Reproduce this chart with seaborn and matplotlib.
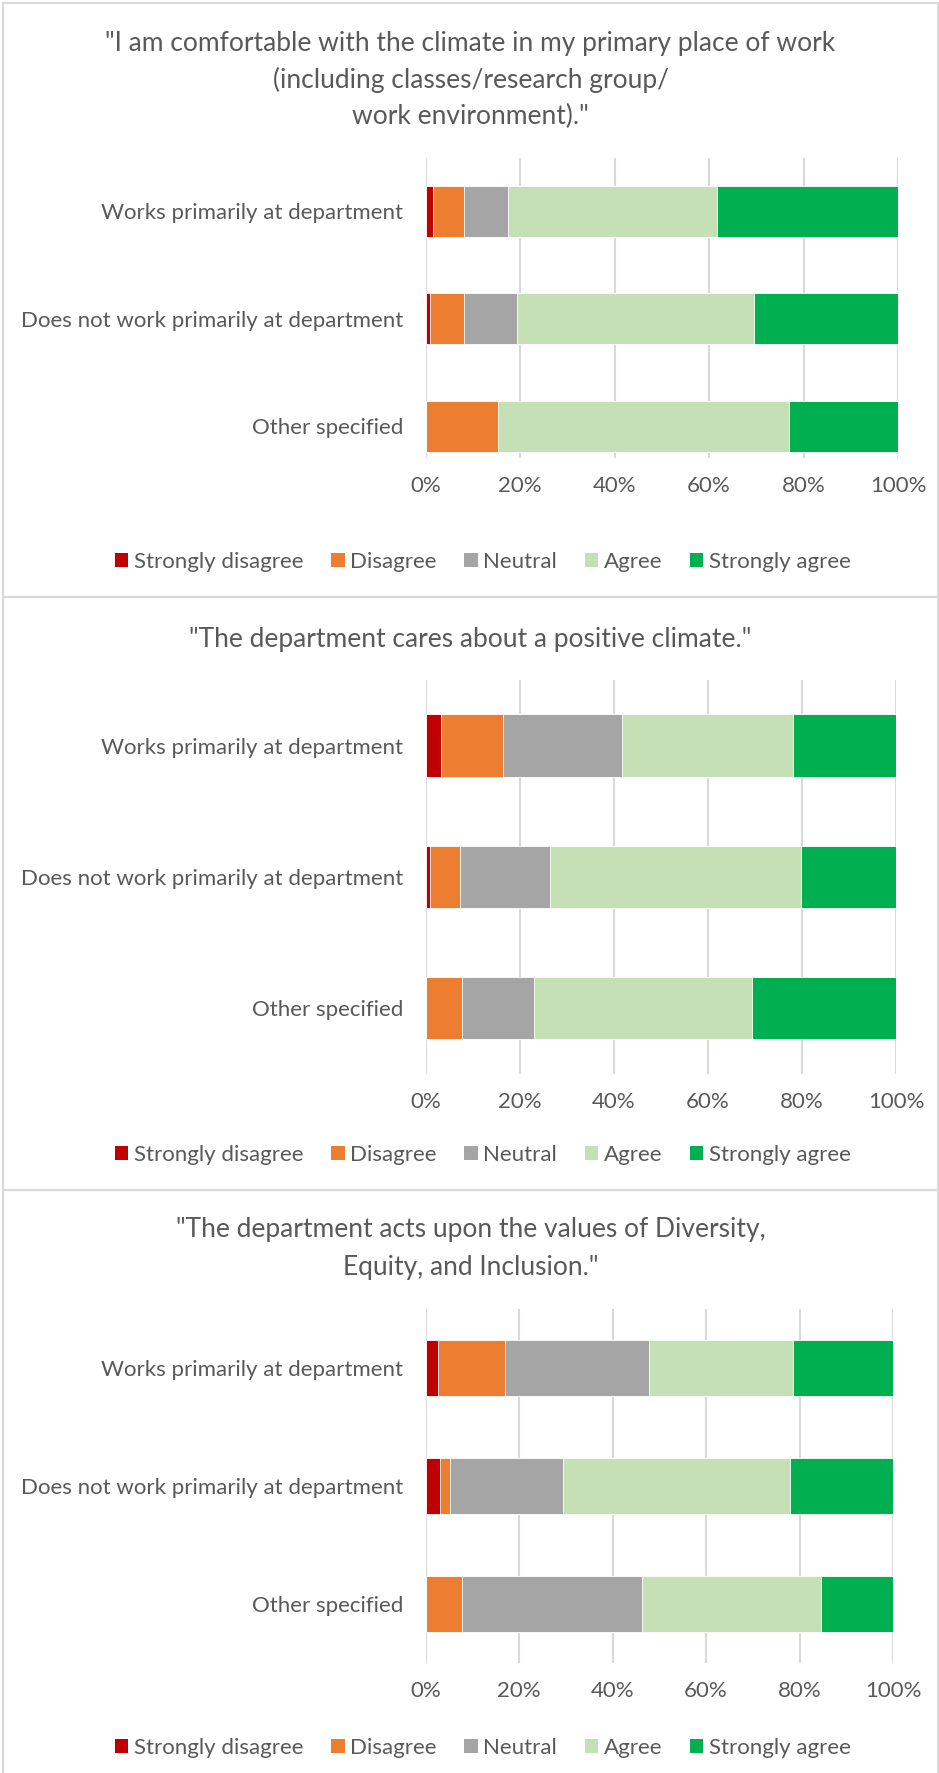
import matplotlib
matplotlib.use("Agg")
import matplotlib.pyplot as plt
import seaborn as sns
import numpy as np
import pandas as pd
from matplotlib.patches import Rectangle

sns.set_theme(style="white")
plt.rcParams['font.family'] = ['Lato', 'DejaVu Sans']

# ---- data -------------------------------------------------------------
groups = ["Works primarily at department",
          "Does not work primarily at department",
          "Other specified"]
responses = ["Strongly disagree", "Disagree", "Neutral", "Agree", "Strongly agree"]
colors = ["#C00000", "#ED7D31", "#A5A5A5", "#C5E0B4", "#00B050"]
x_ticks = [0, 20, 40, 60, 80, 100]
x_tick_labels = ["0%", "20%", "40%", "60%", "80%", "100%"]

# percentage of respondents per answer (rows follow `groups`, columns `responses`)
comfortable_pct = [[1.5, 6.6, 9.3, 44.3, 38.3],
                   [0.9, 7.2, 11.2, 50.2, 30.5],
                   [0.0, 15.4, 0.0, 61.5, 23.1]]
cares_pct = [[3.3, 13.1, 25.3, 36.4, 21.9],
             [0.9, 6.3, 19.2, 53.3, 20.3],
             [0.0, 7.7, 15.4, 46.2, 30.7]]
dei_pct = [[2.6, 14.3, 30.8, 30.8, 21.5],
           [3.1, 2.1, 24.1, 48.6, 22.1],
           [0.0, 7.7, 38.5, 38.4, 15.4]]

titles = [
    ['"I am comfortable with the climate in my primary place of work',
     '(including classes/research group/',
     'work environment)."'],
    ['"The department cares about a positive climate."'],
    ['"The department acts upon the values of Diversity,',
     'Equity, and Inclusion."'],
]

# ---- layout (pixel units) ---------------------------------------------
W, H = 939, 1773
DPI = 100
TEXT = "#595959"
GRID = "#D9D9D9"
FS = 16

fig = plt.figure(figsize=(W / DPI, H / DPI), dpi=DPI)
fig.patch.set_facecolor("white")


def axes_at(left, top, right, bottom):
    return fig.add_axes([left / W, 1 - bottom / H, (right - left) / W, (bottom - top) / H])


panels = [
    dict(data=comfortable_pct, box=(3, 597), ax=(425.7, 157.5, 898, 458),
         ylim=(2.296, -0.5), xpad=13, title_y=[44, 80, 116], legend_y=562),
    dict(data=cares_pct, box=(597, 1190), ax=(425.7, 680, 896, 1073.7),
         ylim=(2.5, -0.5), xpad=13, title_y=[639], legend_y=1155),
    dict(data=dei_pct, box=(1190, 1800), ax=(425.7, 1309, 893, 1663),
         ylim=(2.5, -0.5), xpad=13, title_y=[1230, 1267], legend_y=1748),
]

for p, lines in zip(panels, titles):
    y0, y1 = p["box"]
    fig.patches.append(Rectangle((3 / W, 1 - y1 / H), 935 / W, (y1 - y0) / H,
                                 transform=fig.transFigure, facecolor="none",
                                 edgecolor=GRID, linewidth=1.5, zorder=0))
    for line, ty in zip(lines, p["title_y"]):
        fig.text(470.5 / W, 1 - ty / H, line, ha="center", va="center",
                 fontsize=19, color=TEXT)

    ax = axes_at(*p["ax"])
    vals = np.array(p["data"])
    cum = np.cumsum(vals, axis=1)
    # stacked bars: draw the cumulative totals from the outermost segment inwards
    for k in reversed(range(len(responses))):
        df = pd.DataFrame({"group": groups, "value": cum[:, k]})
        sns.barplot(data=df, x="value", y="group", orient="h", color=colors[k],
                    saturation=1, width=0.475, edgecolor="white", linewidth=0.6,
                    ax=ax, zorder=3)

    ax.set_xlim(0, 100)
    ax.set_ylim(*p["ylim"])
    ax.set_xticks(x_ticks)
    ax.set_xticklabels(x_tick_labels)
    ax.set_xlabel("")
    ax.set_ylabel("")
    ax.grid(axis="x", color=GRID, linewidth=1.5, zorder=0)
    ax.grid(axis="y", visible=False)
    ax.set_axisbelow(True)
    for s in ax.spines.values():
        s.set_visible(False)
    ax.tick_params(axis="x", length=0, pad=p["xpad"], labelsize=FS, labelcolor=TEXT)
    ax.tick_params(axis="y", length=0, pad=16, labelsize=FS, labelcolor=TEXT)
    ax.set_facecolor("none")

    handles = [Rectangle((0, 0), 1, 1, facecolor=c, edgecolor="none") for c in colors]
    fig.legend(handles, responses, loc="center", ncol=5,
               bbox_to_anchor=(483 / W, 1 - p["legend_y"] / H),
               frameon=False, fontsize=FS, labelcolor=TEXT,
               handlelength=0.6, handleheight=0.6, handletextpad=0.25,
               columnspacing=1.25, borderaxespad=0)

fig.savefig("out.png", dpi=DPI, facecolor="white")
